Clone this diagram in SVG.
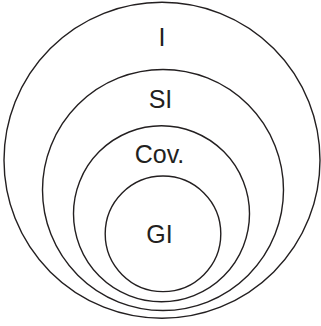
<svg xmlns="http://www.w3.org/2000/svg" width="321" height="326" viewBox="0 0 321 326">
<style>
.c{fill:none;stroke:#231f20;stroke-width:1.4}
.t{font-family:"Liberation Sans",Arial,sans-serif;font-size:25px;fill:#231f20;text-anchor:middle}
</style>
<rect width="321" height="326" fill="#fff"/>
<g id="I"><circle class="c" cx="162" cy="160.2" r="158"/><text class="t" x="162" y="46">I</text></g>
<g id="SI"><circle class="c" cx="163" cy="190" r="120.5"/><text class="t" x="160.5" y="107.5">SI</text></g>
<g id="Cov"><circle class="c" cx="161.5" cy="213.8" r="88"/><text class="t" x="159.5" y="163">Cov.</text></g>
<g id="GI"><circle class="c" cx="163" cy="233.8" r="57.8"/><text class="t" x="159.5" y="242.5">GI</text></g>
<g id="connectors"/>
</svg>
